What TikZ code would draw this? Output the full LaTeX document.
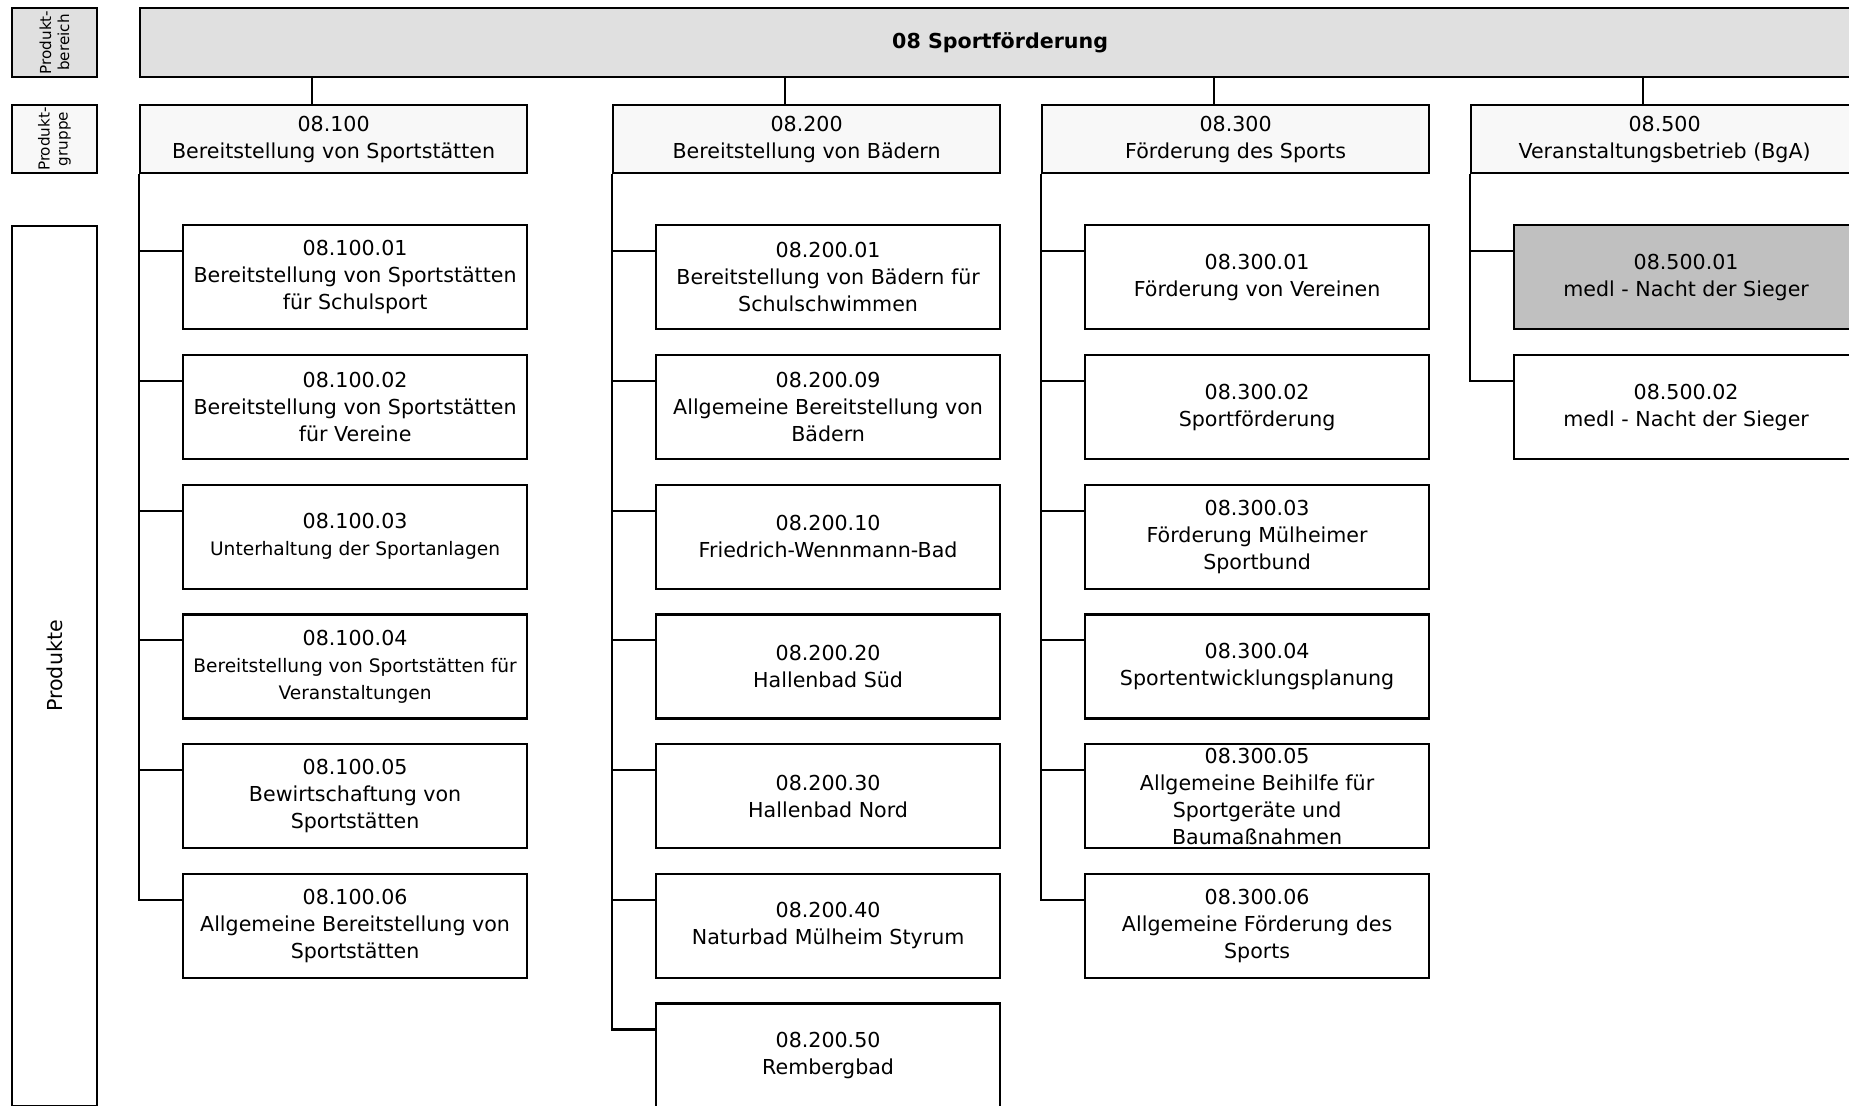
\documentclass[tikz,border=0pt]{standalone}
\usepackage{fontspec}
\setmainfont{DejaVu Sans}
\usetikzlibrary{positioning}
\definecolor{areagray}{HTML}{E0E0E0}
\definecolor{groupgray}{HTML}{F8F8F8}
\definecolor{markgray}{HTML}{C0C0C0}
\newcommand{\smalltext}{\fontsize{9.3}{12.5}\selectfont}
\tikzset{
        box/.style={draw=black, line width=1.1pt, align=center, inner sep=0pt, font=\fontsize{10.3}{13.5}\selectfont},
        % Produktbereich
        area_box/.style={box, fill=areagray, minimum width=860pt, minimum height=34.5pt, font=\fontsize{10.3}{13.5}\selectfont\bfseries},
        % Produktgruppen
        group_box/.style={box, fill=groupgray, minimum width=193.5pt, minimum height=34pt},
        % Produkte
        product_box/.style={box, fill=white, minimum width=172pt, minimum height=52pt},
        product_marked/.style={product_box, fill=markgray},
        % Beschriftung links
        label_box/.style={box, rotate=90, minimum height=42.5pt},
        % Verbindungen
        link/.style={draw=black, line width=1.1pt}
}

\begin{document}
\begin{tikzpicture}[x=0.5pt, y=-0.5pt, node distance=11.75pt]
            \useasboundingbox (0,0) rectangle (1849,1105);
            \clip (0,0) rectangle (1849,1105);

            % Beschriftung links
            \node[label_box, fill=areagray, minimum width=34.5pt, font=\fontsize{7.6}{9}\selectfont] (lab_area) at (54.4,42.5) {Produkt-\\bereich};
            \node[label_box, fill=groupgray, minimum width=34pt, font=\fontsize{7.6}{9}\selectfont] (lab_group) at (54.4,139) {Produkt-\\gruppe};
            \node[label_box, fill=white, minimum width=440pt] (lab_products) at (54.4,666) {Produkte};

            % Produktbereich
            \node[area_box, anchor=north west] (top) at (139,7) {08 Sportförderung};

            % Produktgruppen
            \node[group_box, anchor=north west] (g1) at (139,104) {08.100\\Bereitstellung von Sportstätten};
            \node[group_box, anchor=north west] (g2) at (612,104) {08.200\\Bereitstellung von Bädern};
            \node[group_box, anchor=north west] (g3) at (1041,104) {08.300\\Förderung des Sports};
            \node[group_box, anchor=north west] (g4) at (1470,104) {08.500\\Veranstaltungsbetrieb (BgA)};

            % Produkte 08.100
            \node[product_box, below left=25pt and 0pt of g1.south east] (p101) {08.100.01\\Bereitstellung von Sportstätten\\für Schulsport};
            \node[product_box, below=of p101] (p102) {08.100.02\\Bereitstellung von Sportstätten\\für Vereine};
            \node[product_box, below=of p102] (p103) {08.100.03\\{\smalltext Unterhaltung der Sportanlagen}};
            \node[product_box, below=of p103] (p104) {08.100.04\\{\smalltext Bereitstellung von Sportstätten für}\\{\smalltext Veranstaltungen}};
            \node[product_box, below=of p104] (p105) {08.100.05\\Bewirtschaftung von\\Sportstätten};
            \node[product_box, below=of p105] (p106) {08.100.06\\Allgemeine Bereitstellung von\\Sportstätten};

            % Produkte 08.200
            \node[product_box, below left=25pt and 0pt of g2.south east] (p201) {08.200.01\\Bereitstellung von Bädern für\\Schulschwimmen};
            \node[product_box, below=of p201] (p209) {08.200.09\\Allgemeine Bereitstellung von\\Bädern};
            \node[product_box, below=of p209] (p210) {08.200.10\\Friedrich-Wennmann-Bad};
            \node[product_box, below=of p210] (p220) {08.200.20\\Hallenbad Süd};
            \node[product_box, below=of p220] (p230) {08.200.30\\Hallenbad Nord};
            \node[product_box, below=of p230] (p240) {08.200.40\\Naturbad Mülheim Styrum};
            \node[product_box, below=of p240] (p250) {08.200.50\\Rembergbad};

            % Produkte 08.300
            \node[product_box, below left=25pt and 0pt of g3.south east] (p301) {08.300.01\\Förderung von Vereinen};
            \node[product_box, below=of p301] (p302) {08.300.02\\Sportförderung};
            \node[product_box, below=of p302] (p303) {08.300.03\\Förderung Mülheimer\\Sportbund};
            \node[product_box, below=of p303] (p304) {08.300.04\\Sportentwicklungsplanung};
            \node[product_box, below=of p304] (p305) {08.300.05\\Allgemeine Beihilfe für\\Sportgeräte und\\Baumaßnahmen};
            \node[product_box, below=of p305] (p306) {08.300.06\\Allgemeine Förderung des\\Sports};

            % Produkte 08.500
            \node[product_marked, below left=25pt and 0pt of g4.south east] (p501) {08.500.01\\medl - Nacht der Sieger};
            \node[product_box, below=of p501] (p502) {08.500.02\\medl - Nacht der Sieger};

            % Bereich -> Gruppen
            \foreach \g in {g1,g2,g3,g4}
                \draw[link] ([xshift=-11pt]\g.north) -- ([xshift=-11pt]\g.north |- top.south);

            % Gruppen -> Produkte
            \draw[link] (g1.south west) |- ([yshift=-13.5pt]p106.north west);
            \foreach \p in {p101,p102,p103,p104,p105}
                \draw[link] ([yshift=-13.5pt]\p.north west) -- ([yshift=-13.5pt]\p.north west -| g1.south west);
            \draw[link] (g2.south west) |- ([yshift=-13.5pt]p250.north west);
            \foreach \p in {p201,p209,p210,p220,p230,p240}
                \draw[link] ([yshift=-13.5pt]\p.north west) -- ([yshift=-13.5pt]\p.north west -| g2.south west);
            \draw[link] (g3.south west) |- ([yshift=-13.5pt]p306.north west);
            \foreach \p in {p301,p302,p303,p304,p305}
                \draw[link] ([yshift=-13.5pt]\p.north west) -- ([yshift=-13.5pt]\p.north west -| g3.south west);
            \draw[link] (g4.south west) |- ([yshift=-13.5pt]p502.north west);
            \draw[link] ([yshift=-13.5pt]p501.north west) -- ([yshift=-13.5pt]p501.north west -| g4.south west);
        \end{tikzpicture}
\end{document}
